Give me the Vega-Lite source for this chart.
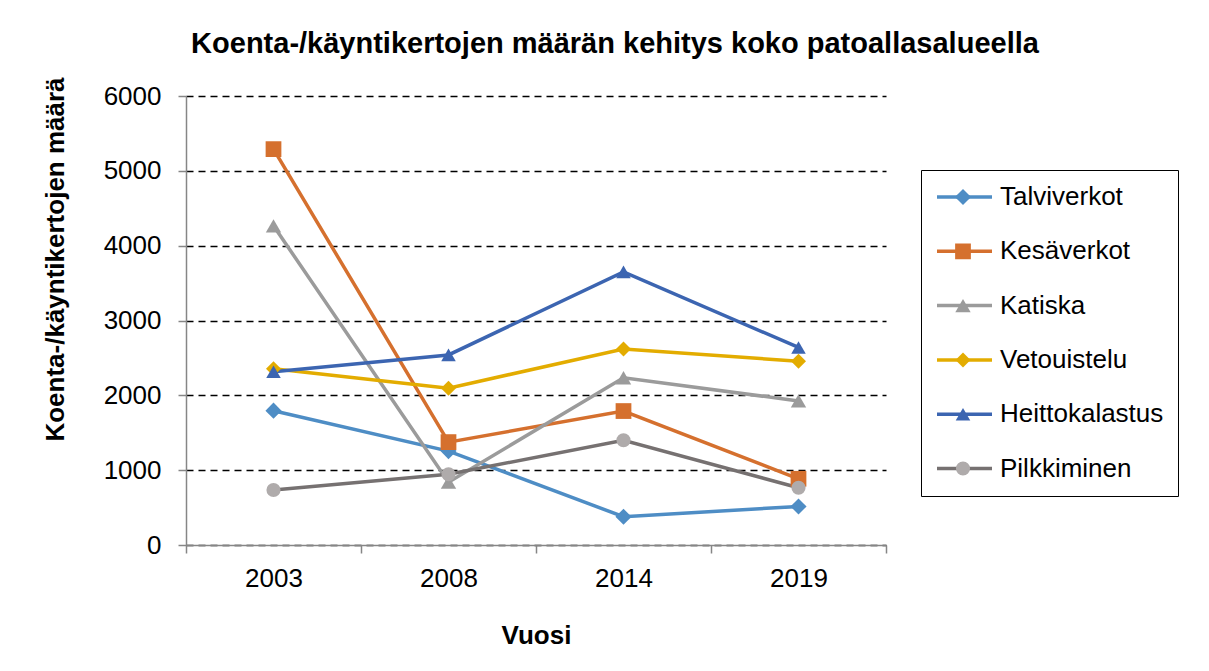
{
  "$schema": "https://vega.github.io/schema/vega-lite/v6.json",
  "autosize": "none",
  "width": 700,
  "height": 449,
  "padding": {"left": 186, "top": 96, "right": 323, "bottom": 126},
  "background": "white",
  "config": {
    "font": "Liberation Sans",
    "view": {"stroke": null}
  },
  "title": {
    "text": "Koenta-/käyntikertojen määrän kehitys koko patoallasalueella",
    "font": "Liberation Sans",
    "fontSize": 29,
    "fontWeight": "bold",
    "color": "black",
    "anchor": "middle",
    "frame": "group",
    "dx": 79,
    "baseline": "alphabetic",
    "offset": -5
  },
  "data": {
    "values": [
      {"vuosi": "2003", "laji": "Talviverkot", "arvo": 1795},
      {"vuosi": "2008", "laji": "Talviverkot", "arvo": 1255},
      {"vuosi": "2014", "laji": "Talviverkot", "arvo": 378},
      {"vuosi": "2019", "laji": "Talviverkot", "arvo": 515},
      {"vuosi": "2003", "laji": "Kesäverkot", "arvo": 5290},
      {"vuosi": "2008", "laji": "Kesäverkot", "arvo": 1375},
      {"vuosi": "2014", "laji": "Kesäverkot", "arvo": 1790},
      {"vuosi": "2019", "laji": "Kesäverkot", "arvo": 885},
      {"vuosi": "2003", "laji": "Katiska", "arvo": 4265},
      {"vuosi": "2008", "laji": "Katiska", "arvo": 840},
      {"vuosi": "2014", "laji": "Katiska", "arvo": 2235},
      {"vuosi": "2019", "laji": "Katiska", "arvo": 1925},
      {"vuosi": "2003", "laji": "Vetouistelu", "arvo": 2355},
      {"vuosi": "2008", "laji": "Vetouistelu", "arvo": 2095},
      {"vuosi": "2014", "laji": "Vetouistelu", "arvo": 2620},
      {"vuosi": "2019", "laji": "Vetouistelu", "arvo": 2455},
      {"vuosi": "2003", "laji": "Heittokalastus", "arvo": 2315},
      {"vuosi": "2008", "laji": "Heittokalastus", "arvo": 2540},
      {"vuosi": "2014", "laji": "Heittokalastus", "arvo": 3650},
      {"vuosi": "2019", "laji": "Heittokalastus", "arvo": 2640},
      {"vuosi": "2003", "laji": "Pilkkiminen", "arvo": 735},
      {"vuosi": "2008", "laji": "Pilkkiminen", "arvo": 945},
      {"vuosi": "2014", "laji": "Pilkkiminen", "arvo": 1400},
      {"vuosi": "2019", "laji": "Pilkkiminen", "arvo": 765}
    ]
  },
  "encoding": {
    "x": {
      "field": "vuosi",
      "type": "ordinal",
      "bandPosition": 0.5,
      "scale": {"type": "band", "paddingInner": 0, "paddingOuter": 0},
      "axis": {
        "title": "Vuosi",
        "titleFont": "Liberation Sans",
        "titleFontSize": 26,
        "titleFontWeight": "bold",
        "titleColor": "black",
        "titleBaseline": "alphabetic",
        "titleY": 98,
        "labelAngle": 0,
        "labelFont": "Liberation Sans",
        "labelFontSize": 26,
        "labelColor": "black",
        "labelPadding": 12,
        "tickBand": "extent",
        "tickSize": 8,
        "tickColor": "#868686",
        "tickWidth": 1.5,
        "domainColor": "#868686",
        "domainWidth": 1.5,
        "grid": false,
        "zindex": 1
      }
    },
    "y": {
      "field": "arvo",
      "type": "quantitative",
      "scale": {"domain": [0, 6000], "nice": false},
      "axis": {
        "title": "Koenta-/käyntikertojen määrä",
        "titleFont": "Liberation Sans",
        "titleFontSize": 26,
        "titleFontWeight": "bold",
        "titleColor": "black",
        "titleAngle": -90,
        "titleAlign": "center",
        "titleBaseline": "alphabetic",
        "titleX": -123,
        "titleY": 163,
        "values": [0, 1000, 2000, 3000, 4000, 5000, 6000],
        "format": "d",
        "labelFont": "Liberation Sans",
        "labelFontSize": 26,
        "labelColor": "black",
        "labelPadding": 17,
        "tickSize": 8,
        "tickColor": "#868686",
        "tickWidth": 1.5,
        "domainColor": "#868686",
        "domainWidth": 1.5,
        "grid": true,
        "gridColor": "black",
        "gridDash": [7, 5],
        "gridWidth": 1.3
      }
    }
  },
  "layer": [
    {
      "mark": {"type": "line", "strokeWidth": 3.5},
      "encoding": {
        "stroke": {
          "field": "laji",
          "type": "nominal",
          "sort": ["Talviverkot", "Kesäverkot", "Katiska", "Vetouistelu", "Heittokalastus", "Pilkkiminen"],
          "scale": {
            "range": ["#4E8DC5", "#D5702E", "#9B9B9B", "#E3AC00", "#3C65B1", "#767171"]
          },
          "legend": {
            "title": null,
            "orient": "none",
            "legendX": 735,
            "legendY": 74,
            "padding": 14,
            "strokeColor": "black",
            "fillColor": "white",
            "symbolType": "stroke",
            "symbolSize": 3025,
            "symbolStrokeWidth": 3.5,
            "clipHeight": 26,
            "rowPadding": 28.3,
            "labelFont": "Liberation Sans",
            "labelFontSize": 26,
            "labelColor": "black",
            "labelOffset": 6,
            "labelLimit": 300,
            "zindex": 0
          }
        }
      }
    },
    {
      "mark": {"type": "point", "filled": true, "opacity": 1, "strokeWidth": 0},
      "encoding": {
        "fill": {
          "field": "laji",
          "type": "nominal",
          "scale": {
            "domain": ["Talviverkot", "Kesäverkot", "Katiska", "Vetouistelu", "Heittokalastus", "Pilkkiminen"],
            "range": ["#4E8DC5", "#D5702E", "#9B9B9B", "#E3AC00", "#3C65B1", "#AFABAB"]
          },
          "legend": {
            "title": null,
            "orient": "right",
            "offset": -24,
            "padding": 88,
            "clipHeight": 26,
            "rowPadding": 28.3,
            "symbolStrokeWidth": 0,
            "symbolOpacity": 1,
            "labelFontSize": 26,
            "labelOpacity": 0,
            "labelExpr": "''",
            "labelOffset": 6,
            "zindex": 1
          }
        },
        "shape": {
          "field": "laji",
          "type": "nominal",
          "scale": {
            "domain": ["Talviverkot", "Kesäverkot", "Katiska", "Vetouistelu", "Heittokalastus", "Pilkkiminen"],
            "range": ["diamond", "square", "triangle-up", "diamond", "triangle-up", "circle"]
          },
          "legend": {
            "title": null,
            "orient": "right",
            "offset": -24,
            "padding": 88,
            "clipHeight": 26,
            "rowPadding": 28.3,
            "symbolStrokeWidth": 0,
            "symbolOpacity": 1,
            "labelFontSize": 26,
            "labelOpacity": 0,
            "labelExpr": "''",
            "labelOffset": 6,
            "zindex": 1
          }
        },
        "size": {
          "field": "laji",
          "type": "nominal",
          "scale": {
            "domain": ["Talviverkot", "Kesäverkot", "Katiska", "Vetouistelu", "Heittokalastus", "Pilkkiminen"],
            "range": [260, 200, 290, 480, 560, 200]
          },
          "legend": {
            "title": null,
            "orient": "right",
            "offset": -24,
            "padding": 88,
            "clipHeight": 26,
            "rowPadding": 28.3,
            "symbolStrokeWidth": 0,
            "symbolOpacity": 1,
            "labelFontSize": 26,
            "labelOpacity": 0,
            "labelExpr": "''",
            "labelOffset": 6,
            "zindex": 1
          }
        }
      }
    }
  ]
}
